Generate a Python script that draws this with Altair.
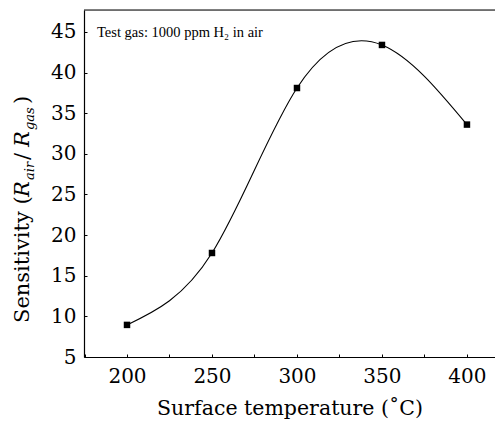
import altair as alt
import pandas as pd

# data
temperature = [200, 250, 300, 350, 400]
sensitivity = [8.95, 17.8, 38.1, 43.4, 33.6]

x_ticks = [175, 200, 225, 250, 275, 300, 325, 350, 375, 400]
y_ticks = [5, 7.5, 10, 12.5, 15, 17.5, 20, 22.5, 25, 27.5, 30, 32.5, 35, 37.5, 40, 42.5, 45, 47.5]

annotation = "Test gas: 1000 ppm H\u2082 in air"
x_title = "Surface temperature (\u02daC)"

W, H = 411, 347
FONT = "DejaVu Serif"

df = pd.DataFrame({"T": temperature, "S": sensitivity})

xscale = alt.Scale(domain=[174.7, 416.5], nice=False, zero=False)
yscale = alt.Scale(domain=[5, 47.7], nice=False, zero=False)

xaxis = alt.Axis(
    values=x_ticks, labelExpr="datum.value % 50 == 0 ? datum.label : ''",
    title=x_title, titleFont=FONT, titleFontSize=20.5, titleFontWeight="normal",
    titleColor="black", titlePadding=12,
    labelFont=FONT, labelFontSize=20, labelColor="black", labelPadding=12,
    tickSize={"expr": "-3"}, tickColor="black", tickWidth=1,
    domainColor="black", domainWidth=1.2, grid=False, labelFlush=False,
)
yaxis = alt.Axis(
    values=y_ticks, labelExpr="datum.value % 5 == 0 ? datum.label : ''",
    title=None,
    labelFont=FONT, labelFontSize=20, labelColor="black", labelPadding=11,
    tickSize={"expr": "-3"}, tickColor="black", tickWidth=1,
    domainColor="black", domainWidth=1.2, grid=False, labelFlush=False,
)

base = alt.Chart(df)

line = base.mark_line(interpolate="natural", color="black", strokeWidth=1.1).encode(
    x=alt.X("T:Q", scale=xscale, axis=xaxis),
    y=alt.Y("S:Q", scale=yscale, axis=yaxis),
)
pts = base.mark_square(size=42, color="black", opacity=1, filled=True).encode(
    x=alt.X("T:Q", scale=xscale),
    y=alt.Y("S:Q", scale=yscale),
)

one = alt.Chart(pd.DataFrame({"a": [0]}))
top_rule = one.mark_rule(color="black", strokeWidth=1.2).encode(
    x=alt.value(0), x2=alt.value(W), y=alt.value(0)
)

note = one.mark_text(font="Liberation Serif", fontSize=14.5, align="left",
                     baseline="alphabetic", color="black").encode(
    x=alt.value(13), y=alt.value(27), text=alt.value(annotation)
)

# y title pieces: (text, italic, subscript, page y start)
pieces = [
    ("Sensitivity (", False, False, 323),
    ("R", True, False, 197),
    ("air", True, True, 180),
    ("/", False, False, 160),
    ("R", True, False, 147),
    ("gas", True, True, 130),
    (")", False, False, 104),
]
title_layers = []
for txt, ital, sub, py in pieces:
    title_layers.append(
        one.mark_text(
            font=FONT, fontSize=13 if sub else 21,
            fontStyle="italic" if ital else "normal",
            angle=270, align="left", baseline="middle", color="black",
        ).encode(
            x=alt.value(-54 if sub else -61), y=alt.value(py - 10),
            text=alt.value(txt),
        )
    )

chart = alt.layer(line, pts, top_rule, note, *title_layers).properties(
    width=W, height=H,
    autosize=alt.AutoSizeParams(type="none"),
    padding={"left": 76, "top": 2, "right": 0, "bottom": 63},
).configure_view(stroke=None).configure(background="white")

chart.save("out.html", embed_options={"renderer": "svg", "actions": False})
